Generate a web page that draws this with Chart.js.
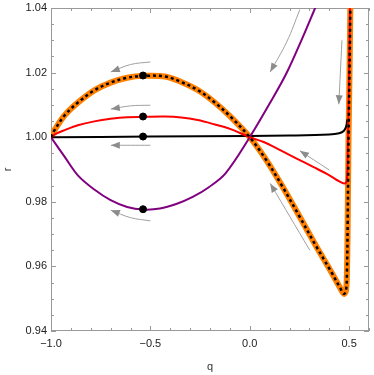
<!DOCTYPE html>
<html>
<head>
<meta charset="utf-8">
<script src="https://cdn.jsdelivr.net/npm/chart.js@4"></script>
<style>
  html, body { margin: 0; padding: 0; background: #fff; }
  #wrap { width: 374px; height: 375px; }
</style>
</head>
<body>
<div id="wrap"><canvas id="chart"></canvas></div>
<script>
// axis ticks
const xTicks = [-1, -0.5, 0, 0.5];
const xTickLabels = ['−1.0', '−0.5', '0.0', '0.5'];
const yTicks = [0.94, 0.96, 0.98, 1.00, 1.02, 1.04];
const yTickLabels = ['0.94', '0.96', '0.98', '1.00', '1.02', '1.04'];

// curves, [q, r] pairs
const orangeCurve = [
  [-1, 1.0], [-0.98, 1.0024], [-0.931, 1.0068], [-0.865, 1.0107], [-0.782, 1.0145],
  [-0.70, 1.0169], [-0.617, 1.0184], [-0.535, 1.0190], [-0.426, 1.0188], [-0.345, 1.0171],
  [-0.262, 1.0146], [-0.179, 1.0109], [-0.096, 1.0063], [0, 1.0], [0.08, 0.9932],
  [0.161, 0.9851], [0.25, 0.9755], [0.33, 0.9667], [0.41, 0.9583], [0.457, 0.9531],
  [0.474, 0.9515], [0.484, 0.9524], [0.489, 0.958], [0.493, 0.975], [0.497, 1.0],
  [0.502, 1.02], [0.506, 1.04], [0.508, 1.05]
];
const redCurve = [
  [-1, 1.0], [-0.98, 1.0009], [-0.931, 1.0022], [-0.865, 1.0037], [-0.782, 1.0049],
  [-0.70, 1.0057], [-0.617, 1.0062], [-0.535, 1.0063], [-0.426, 1.0064], [-0.345, 1.0061],
  [-0.262, 1.0053], [-0.179, 1.0040], [-0.096, 1.0025], [0, 1.0], [0.07, 0.9985],
  [0.153, 0.9960], [0.236, 0.9934], [0.319, 0.9908], [0.401, 0.9882], [0.451, 0.9863],
  [0.476, 0.9857], [0.488, 0.9865], [0.493, 0.995], [0.497, 1.01], [0.502, 1.03], [0.507, 1.05]
];
const purpleCurve = [
  [-1, 1.0], [-0.931, 0.9939], [-0.865, 0.9882], [-0.782, 0.9838], [-0.70, 0.9805],
  [-0.617, 0.9784], [-0.535, 0.9776], [-0.452, 0.9779], [-0.37, 0.9793], [-0.287, 0.9815],
  [-0.204, 0.9846], [-0.122, 0.9888], [0, 1.0], [0.1, 1.0104],
  [0.184, 1.0197], [0.267, 1.0310], [0.329, 1.0400], [0.35, 1.0430]
];
const blackCurve = [
  [-1, 1.0], [-0.5, 1.0002], [0, 1.0004], [0.2, 1.0005], [0.4, 1.0008], [0.45, 1.0012],
  [0.474, 1.0020], [0.486, 1.0035], [0.491, 1.0055]
];

// marked points
const dotQ = [-0.537, -0.537, -0.537, -0.537];
const dotR = [1.0191, 1.0064, 1.0002, 0.9777];

// flow arrows, tail first, head last
const arrows = [
  [[-0.50, 1.0233], [-0.60, 1.0225], [-0.699, 1.0202]],
  [[-0.50, 1.0099], [-0.60, 1.0097], [-0.699, 1.0087]],
  [[-0.50, 0.9975], [-0.699, 0.9975]],
  [[-0.50, 0.9741], [-0.60, 0.9751], [-0.699, 0.9774]],
  [[0.252, 1.0395], [0.186, 1.0295], [0.103, 1.0202]],
  [[0.464, 1.0300], [0.448, 1.0102]],
  [[0.401, 0.9898], [0.252, 0.9958]],
  [[0.302, 0.9650], [0.103, 0.9857]]
];

const toXY = pts => pts.map(([q, r]) => ({ x: q, y: r }));

function curve(data, color, width, order, extra) {
  return Object.assign({
    type: 'line',
    data: toXY(data),
    borderColor: color,
    borderWidth: width,
    pointRadius: 0,
    tension: 0.35,
    fill: false,
    order: order,
  }, extra || {});
}

const datasets = [
  {
    type: 'scatter',
    data: dotQ.map((q, i) => ({ x: q, y: dotR[i] })),
    backgroundColor: '#000',
    borderColor: '#000',
    pointRadius: 3.5,
    order: 0,
  },
  curve(orangeCurve, '#000', 2.5, 1, { borderDash: [3, 3] }),
  curve(blackCurve, '#000', 2, 4),
  curve(purpleCurve, '#800080', 2, 3),
  curve(redCurve, '#ff0000', 2, 2),
  curve(orangeCurve, '#ff8000', 6, 5),
];

arrows.forEach(a => {
  datasets.push({
    type: 'line',
    data: toXY(a),
    borderColor: '#a0a0a0',
    borderWidth: 1,
    pointRadius: 0,
    tension: 0.4,
    fill: false,
    order: 6,
  });
});

// frame with inward ticks on all four sides, plus arrowheads
const frameTicks = {
  id: 'frameTicks',
  beforeDatasetsDraw(chart) {
    const { ctx, chartArea: a, scales: { x, y } } = chart;
    ctx.save();
    ctx.strokeStyle = '#999';
    ctx.lineWidth = 1;
    ctx.strokeRect(a.left + 0.5, a.top + 0.5, a.right - a.left - 1, a.bottom - a.top - 1);
    ctx.beginPath();
    for (let i = -10; i <= 6; i++) {
      const px = Math.round(x.getPixelForValue(i / 10)) + 0.5;
      const len = i % 5 === 0 ? 5 : 3;
      ctx.moveTo(px, a.bottom); ctx.lineTo(px, a.bottom - len);
      ctx.moveTo(px, a.top); ctx.lineTo(px, a.top + len);
    }
    for (let i = 188; i <= 208; i++) {
      const py = Math.round(y.getPixelForValue(i * 0.005)) + 0.5;
      const len = i % 4 === 0 ? 5 : 3;
      ctx.moveTo(a.left, py); ctx.lineTo(a.left + len, py);
      ctx.moveTo(a.right, py); ctx.lineTo(a.right - len, py);
    }
    ctx.stroke();
    ctx.restore();
  },
  afterDatasetsDraw(chart) {
    const { ctx, scales: { x, y } } = chart;
    ctx.save();
    ctx.fillStyle = '#8c8c8c';
    arrows.forEach(a => {
      const [q1, r1] = a[a.length - 2];
      const [q2, r2] = a[a.length - 1];
      const x1 = x.getPixelForValue(q1), y1 = y.getPixelForValue(r1);
      const x2 = x.getPixelForValue(q2), y2 = y.getPixelForValue(r2);
      const ang = Math.atan2(y2 - y1, x2 - x1);
      const len = 9, half = 3.5;
      ctx.beginPath();
      ctx.moveTo(x2, y2);
      ctx.lineTo(x2 - len * Math.cos(ang) - half * Math.sin(ang), y2 - len * Math.sin(ang) + half * Math.cos(ang));
      ctx.lineTo(x2 - len * Math.cos(ang) + half * Math.sin(ang), y2 - len * Math.sin(ang) - half * Math.cos(ang));
      ctx.closePath();
      ctx.fill();
    });
    ctx.restore();
  }
};

const tickFont = { family: 'Liberation Sans', size: 11 };

new Chart(document.getElementById('chart'), {
  data: { datasets: datasets },
  plugins: [frameTicks],
  options: {
    responsive: true,
    maintainAspectRatio: false,
    animation: false,
    devicePixelRatio: 1,
    layout: { padding: { top: 8, right: 1, left: 0, bottom: 0 } },
    plugins: { legend: { display: false }, tooltip: { enabled: false } },
    scales: {
      x: {
        type: 'linear',
        min: -1,
        max: 0.6,
        grid: { display: false, drawTicks: false },
        border: { display: false },
        afterBuildTicks: s => { s.ticks = xTicks.map(v => ({ value: v })); },
        afterFit: s => { s.height = 44; s.paddingLeft = 0; s.paddingRight = 0; },
        ticks: {
          padding: 6,
          color: '#222',
          font: tickFont,
          maxRotation: 0,
          callback: (v) => xTickLabels[xTicks.indexOf(v)],
        },
        title: { display: true, text: 'q', color: '#333', font: tickFont, padding: { top: 0, bottom: 1 } },
      },
      y: {
        type: 'linear',
        min: 0.94,
        max: 1.04,
        grid: { display: false, drawTicks: false },
        border: { display: false },
        afterBuildTicks: s => { s.ticks = yTicks.map(v => ({ value: v })); },
        afterFit: s => { s.width = 51; s.paddingTop = 0; s.paddingBottom = 0; },
        ticks: {
          padding: 4,
          color: '#222',
          font: tickFont,
          callback: (v) => yTickLabels[yTicks.findIndex(t => Math.abs(t - v) < 1e-9)],
        },
        title: { display: true, text: 'r', color: '#333', font: tickFont, padding: { top: 1, bottom: 0 } },
      },
    },
  },
});
</script>
</body>
</html>
